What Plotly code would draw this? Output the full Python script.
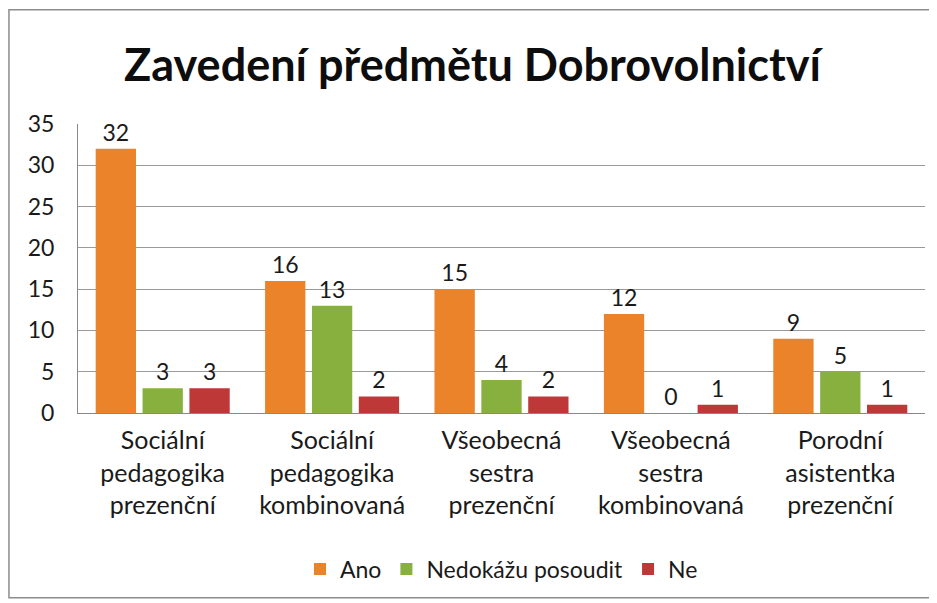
import plotly.graph_objects as go

categories = ["Sociální<br>pedagogika<br>prezenční", "Sociální<br>pedagogika<br>kombinovaná",
              "Všeobecná<br>sestra<br>prezenční", "Všeobecná<br>sestra<br>kombinovaná",
              "Porodní<br>asistentka<br>prezenční"]
ano = [32, 16, 15, 12, 9]
nedokazu = [3, 13, 4, 0, 5]
ne = [3, 2, 2, 1, 1]

series = [("Ano", ano, "#EA832A"), ("Nedokážu posoudit", nedokazu, "#87B03F"), ("Ne", ne, "#BF3838")]

font_name = "Lato, Open Sans, sans-serif"

fig = go.Figure()
for name, vals, color in series:
    fig.add_trace(go.Bar(x=categories, y=vals, name=name, marker=dict(color=color, line=dict(width=0)),
                         text=vals, textposition="outside", cliponaxis=False,
                         textfont=dict(size=23, color="#1a1a1a")))

# page has an 8px body margin, so the figure is a bit smaller than the window
fig.update_layout(
    width=929, height=595,
    margin=dict(l=70, r=12, t=116, b=188),
    paper_bgcolor="white", plot_bgcolor="white",
    font=dict(family=font_name, color="#1a1a1a"),
    title=dict(text="<b>Zavedení předmětu Dobrovolnictví</b>", x=0.5, xanchor="center",
               y=0.904, yanchor="middle", font=dict(size=45, color="#0d0d0d")),
    barmode="group", bargap=0.17, bargroupgap=0.14,
    legend=dict(orientation="h", x=0.5, xanchor="center", y=-0.54, yanchor="middle",
                font=dict(size=23), traceorder="normal"),
    showlegend=True,
)
fig.update_xaxes(showline=True, linecolor="#888888", linewidth=1, tickfont=dict(size=25),
                 ticks="", ticklabelstandoff=5)
fig.update_yaxes(range=[0, 35], dtick=5, showgrid=True, gridcolor="#9a9a9a", gridwidth=1,
                 showline=True, linecolor="#888888", tickfont=dict(size=23), zeroline=False,
                 ticks="", ticklabelstandoff=18)

fig.add_shape(type="rect", xref="paper", yref="paper", x0=-0.0815, x1=1.0118, y0=-0.639, y1=1.395,
              line=dict(color="#8c8c8c", width=1.5))

fig.write_html("out.html")
